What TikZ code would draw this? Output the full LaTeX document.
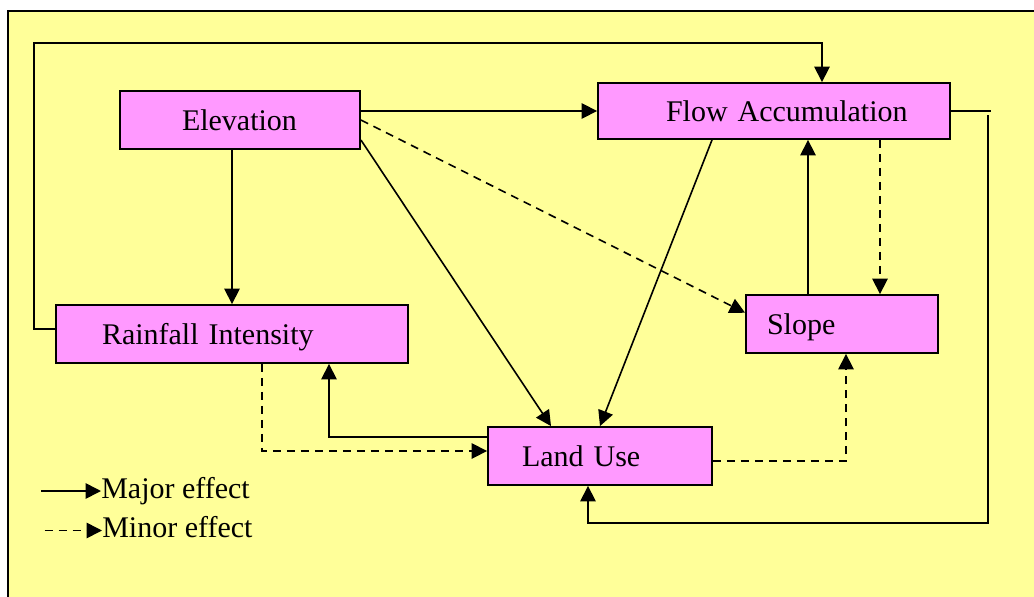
\documentclass[tikz,border=0pt]{standalone}
\usepackage{fontspec}
\setmainfont{Liberation Serif}
\newfontfamily\tnrfont{Liberation Serif}
\usetikzlibrary{arrows.meta,calc}
\definecolor{bgyellow}{HTML}{FFFF99}
\definecolor{boxpink}{HTML}{FF99FF}
\begin{document}
\begin{tikzpicture}[x=0.75pt,y=-0.75pt,
  box/.style={draw=black, line width=1.4pt, fill=boxpink, inner xsep=0pt, inner ysep=0pt,
    align=left, text height=15pt, text depth=0pt,
    font=\tnrfont\fontsize{22.5}{26}\selectfont},
  legendtext/.style={inner sep=0pt, text height=15pt, text depth=0pt, anchor=west,
    font=\tnrfont\fontsize{22.5}{26}\selectfont},
  major/.style={line width=1.2pt, -{Triangle[length=11.5pt,width=11.5pt]}},
  minor/.style={line width=1.2pt, dash pattern=on 6pt off 4.5pt, -{Triangle[length=11.5pt,width=11.5pt]}},
  plain/.style={line width=1.2pt}]
\useasboundingbox (0,0) rectangle (1034,596);
\fill[white] (0,0) rectangle (1034,596);
\draw[line width=2pt, fill=bgyellow] (8,11) rectangle (1045,610);

\node[box, text width=180pt, minimum height=43.5pt] (elev) at (240,120) {\hspace*{46.5pt}Elevation};
\node[box, text width=264pt, minimum height=42pt] (flow) at (774,111) {\hspace*{51pt}Flow Accumulation};
\node[box, text width=264pt, minimum height=43.5pt] (rain) at (232,334) {\hspace*{34.5pt}Rainfall Intensity};
\node[box, text width=144pt, minimum height=43.5pt] (slope) at (842,324) {\hspace*{15.75pt}Slope};
\node[box, text width=168pt, minimum height=43.5pt] (land) at (600,456) {\hspace*{25.5pt}Land Use};

\coordinate (tl) at (34,43);
\coordinate (rc) at (988,523);

% loop rainfall -> flow accumulation
\draw[major] ([yshift=3.75pt]rain.west) -| (tl) -| ([xshift=36pt]flow.north);
% elevation -> flow
\draw[major] (elev.east |- flow.west) -- (flow.west);
% elevation -> slope (minor)
\draw[minor] (elev.east) -- ([yshift=-14pt]slope.north west);
% elevation -> land use
\draw[major] ([yshift=-15pt]elev.east) -- ([xshift=-36.75pt]land.north);
% elevation -> rainfall
\draw[major] ([xshift=-6pt]elev.south) -- ([xshift=-6pt]elev.south |- rain.north);
% flow -> land use
\draw[major] ([xshift=-46.5pt]flow.south) -- (land.north);
% slope -> flow
\draw[major] ([xshift=-25.5pt]slope.north) -- ([xshift=-25.5pt]slope.north |- flow.south);
% flow -> slope (minor)
\draw[minor] ([xshift=79.5pt]flow.south) -- ([xshift=79.5pt]flow.south |- slope.north);
% flow -> land use loop
\draw[plain] (flow.east) -- ++(30pt,0);
\draw[major] ([yshift=-3pt]rc |- flow.east) -- (rc) -| ([xshift=-9pt]land.south);
% land use -> slope (minor)
\draw[minor] ([yshift=-3.75pt]land.east) -| ([xshift=3pt]slope.south);
% rainfall -> land use (minor)
\draw[minor] ([xshift=22.5pt]rain.south) |- ([yshift=3.75pt]land.west);
% land use -> rainfall
\draw[major] ([yshift=14.25pt]land.west) -| ([xshift=72.75pt]rain.south);

% legend
\node[legendtext] (maj) at (101,488) {Major effect};
\node[legendtext] (mnr) at (102,527.5) {Minor effect};
\draw[major] ([xshift=-45pt,yshift=-2.25pt]maj.west) -- ([yshift=-2.25pt]maj.west);
\draw[minor] ([xshift=-43pt,yshift=-2.25pt]mnr.west) -- ([yshift=-2.25pt]mnr.west);
\end{tikzpicture}
\end{document}
